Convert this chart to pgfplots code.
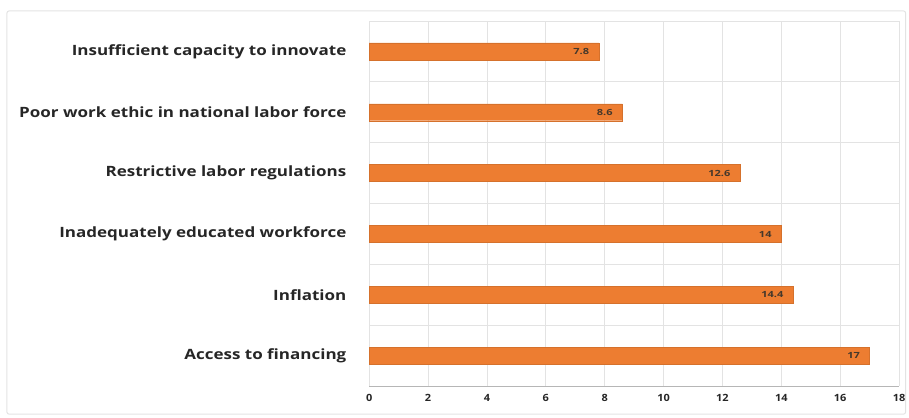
\documentclass[border=0pt]{standalone}
\usepackage{pgfplots}
\pgfplotsset{compat=1.18}
\usepackage{fontspec}
\setmainfont{Open Sans}
\definecolor{barorange}{HTML}{ED7D31}
\definecolor{gridgray}{HTML}{E3E3E3}
\definecolor{labtext}{HTML}{262626}
\begin{document}
\begin{tikzpicture}[x=1pt,y=1pt]
\begin{axis}[
  at={(0,0)}, anchor=south west,
  scale only axis,
  width=531pt, height=366pt,
  xmin=0, xmax=18,
  ymin=-0.5, ymax=5.5,
  xtick={0,2,...,18},
  ytick={0,1,2,3,4,5},
  yticklabels={Access to financing, Inflation, Inadequately educated workforce, Restrictive labor regulations, Poor work ethic in national labor force, Insufficient capacity to innovate},
  minor ytick={-0.5,0.5,1.5,2.5,3.5,4.5,5.5},
  xmajorgrids, yminorgrids,
  major grid style={gridgray, line width=0.8pt},
  minor grid style={gridgray, line width=0.8pt},
  axis line style={draw=none},
  tick style={draw=none},
  minor tick style={draw=none},
  /pgf/number format/assume math mode=true,
  xticklabel style={font=\fontsize{10}{12}\selectfont\bfseries, text=labtext, xscale=1.1, yshift=-5pt},
  yticklabel style={font=\fontsize{14.2}{17}\selectfont\bfseries, text=labtext, xscale=1.2, xshift=-12pt},
  xbar, bar width=17pt,
  nodes near coords,
  nodes near coords style={font=\fontsize{8.5}{10}\selectfont\bfseries, text=labtext!80!brown, xscale=1.3, anchor=east, xshift=-4pt},
  clip=false,
]
\addplot[fill=barorange, draw=barorange!90!black, line width=0.4pt] coordinates {
  (17,0) (14.4,1) (14,2) (12.6,3) (8.6,4) (7.8,5)
};
\draw[gridgray!80!black, line width=0.8pt] (axis cs:0,-0.5) -- (axis cs:18,-0.5);
\end{axis}
\draw[gridgray, line width=1pt, rounded corners=2pt] (-363pt,-28pt) rectangle (537.5pt,376pt);
\path (-370pt,-31pt) rectangle (539pt,387pt);
\end{tikzpicture}
\end{document}
